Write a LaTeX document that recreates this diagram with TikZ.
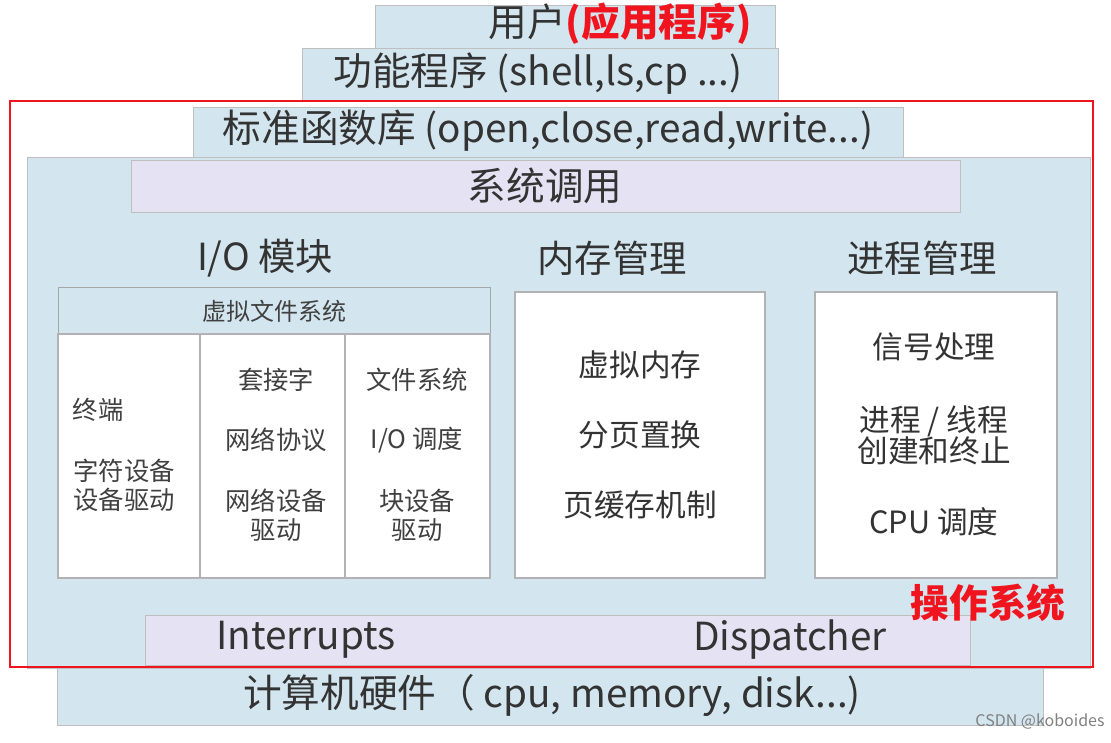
\documentclass[tikz,border=0pt]{standalone}
\usepackage{fontspec}
\setmainfont{Noto Sans CJK SC}
\begin{document}
\begin{tikzpicture}[x=0.75pt,y=-0.75pt,
  lb/.style={fill=lblue,draw=gray!50,line width=0.6pt},
  lav/.style={fill=lavend,draw=gray!50,line width=0.6pt},
  wb/.style={fill=white,draw=gray!60,line width=0.8pt},
  big/.style={font=\fontsize{29}{33}\selectfont,text=black!80},
  ttl/.style={font=\fontsize{28}{32}\selectfont,text=black!80},
  mid/.style={font=\fontsize{23}{27}\selectfont,text=black!80},
  sm/.style={font=\fontsize{19}{22}\selectfont,text=black!75},
  sm2/.style={font=\fontsize{18}{21}\selectfont,text=black!75}]
\definecolor{lblue}{HTML}{D3E6EF}
\definecolor{lavend}{HTML}{E5E3F3}
\definecolor{redc}{HTML}{F0141E}
\useasboundingbox (0,0) rectangle (1111,743);
\fill[white] (0,0) rectangle (1111,743);
% stacked boxes
\path[lb] (375,5) rectangle (775,48);
\node[big] (user) at (620,24) {用户\textcolor{redc}{\bfseries(应用程序)}};
\path[lb] (302,48) rectangle (778,100);
\node[big] (func) at (538,74) {功能程序 (shell,ls,cp ...)};
\path[lb] (27,157) rectangle (1090,668);
\path[lb] (193,107) rectangle (903,157);
\node[big] (lib) at (548,131) {标准函数库 (open,close,read,write...)};
\path[lav] (131,160) rectangle (960,212);
\node[big] (sys) at (545,186) {系统调用};
% module titles
\node[ttl] (io) at (265,258) {I/O 模块};
\node[ttl] (mem) at (612,258) {内存管理};
\node[ttl] (proc) at (922,258) {进程管理};
% IO block
\path[lb,draw=gray!70] (58,287) rectangle (490,334);
\node[sm2] (vfs) at (274,311) {虚拟文件系统};
\path[wb] (58,334) rectangle (200,578);
\path[wb] (200,334) rectangle (345,578);
\path[wb] (345,334) rectangle (490,578);
\node[sm] (t1) at (98,410) {终端};
\node[sm,align=center] (t2) at (124,485) {字符设备\\[0pt]设备驱动};
\node[sm] (s1) at (276,380) {套接字};
\node[sm] (s2) at (276,440) {网络协议};
\node[sm,align=center] (s3) at (276,515) {网络设备\\[0pt]驱动};
\node[sm] (f1) at (417,380) {文件系统};
\node[sm] (f2) at (417,440) {I/O 调度};
\node[sm,align=center] (f3) at (417,515) {块设备\\[0pt]驱动};
% memory
\path[wb] (515,292) rectangle (765,578);
\node[mid] (m1) at (640,365) {虚拟内存};
\node[mid] (m2) at (640,435) {分页置换};
\node[mid] (m3) at (640,505) {页缓存机制};
% process
\path[wb] (815,292) rectangle (1057,578);
\node[mid] (p1) at (934,347) {信号处理};
\node[mid,align=center] (p2) at (934,435) {进程 / 线程\\[-4pt]创建和终止};
\node[mid] (p3) at (934,522) {CPU 调度};
% interrupts
\path[lav] (145,615) rectangle (970,665);
\node[big] (intr) at (306,640) {Interrupts};
\node[big] (disp) at (790,640) {Dispatcher};
% hardware
\path[lb] (57,668) rectangle (1043,725);
\node[big] (hw) at (552,695) {计算机硬件（ cpu, memory, disk...)};
% red frame
\draw[redc,line width=1.6pt] (10,101) rectangle (1093,667);
\node[font=\fontsize{29}{33}\selectfont\bfseries,text=redc] (os) at (988,603) {操作系统};
\node[font=\fontsize{12}{14}\selectfont,text=gray] (wm) at (1040,722) {CSDN @koboides};
\end{tikzpicture}
\end{document}
